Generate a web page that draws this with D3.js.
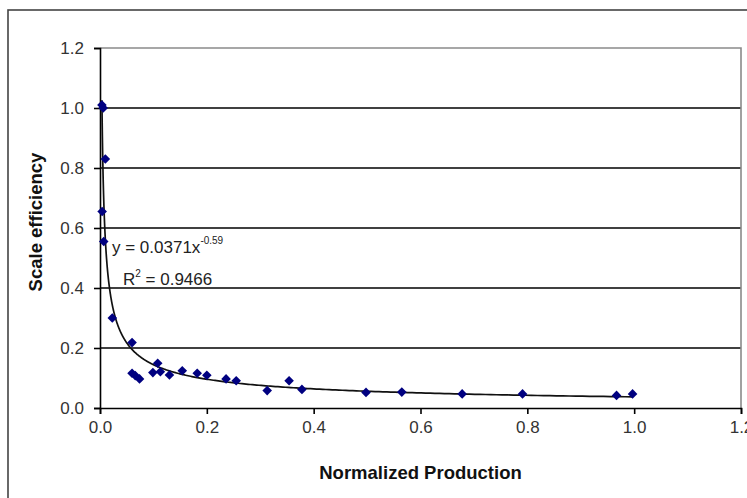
<!DOCTYPE html>
<html>
<head>
<meta charset="utf-8">
<script src="https://cdn.jsdelivr.net/npm/d3@7/dist/d3.min.js"></script>
<style>
  html, body { margin: 0; padding: 0; background: #fff; }
  svg { display: block; font-family: "Liberation Sans", Arial, sans-serif; }
</style>
</head>
<body>
<svg id="chart" width="747" height="498"></svg>
<script>
// ---- data ----
const productionX = [0.0036, 0.006, 0.010, 0.004, 0.007, 0.023, 0.060, 0.060, 0.066, 0.074,
                     0.099, 0.108, 0.113, 0.130, 0.154, 0.182, 0.200, 0.236, 0.255, 0.313,
                     0.354, 0.378, 0.498, 0.565, 0.678, 0.791, 0.967, 0.997];
const efficiencyY = [1.01, 1.00, 0.83, 0.655, 0.555, 0.30, 0.218, 0.116, 0.108, 0.097,
                     0.118, 0.149, 0.121, 0.110, 0.124, 0.116, 0.109, 0.097, 0.091, 0.058,
                     0.091, 0.062, 0.052, 0.053, 0.047, 0.047, 0.042, 0.047];
const yTicks = [0.0, 0.2, 0.4, 0.6, 0.8, 1.0, 1.2];
const xTicks = [0.0, 0.2, 0.4, 0.6, 0.8, 1.0, 1.2];
const trendCoef = 0.0371;      // y = a * x^b (power trendline shown on chart)
const trendExp = -0.59;
const eqText = "y = 0.0371x";
const eqSup = "-0.59";
const r2Text = "= 0.9466";
const xTitle = "Normalized Production";
const yTitle = "Scale efficiency";

// ---- layout ----
const svg = d3.select("#chart");
const W = 747, H = 498;
const plot = { left: 100, right: 741, top: 48, bottom: 408 };

const x = d3.scaleLinear().domain([0, 1.2]).range([plot.left, plot.right]);
const y = d3.scaleLinear().domain([0, 1.2]).range([plot.bottom, plot.top]);

// outer chart frame
svg.append("rect")
  .attr("x", 8).attr("y", 10)
  .attr("width", W + 20).attr("height", H + 20)
  .attr("fill", "#fff").attr("stroke", "#444").attr("stroke-width", 1.6);

// gridlines (black)
svg.append("g").selectAll("line")
  .data(yTicks.filter(d => d > 0 && d < 1.2))
  .join("line")
  .attr("x1", plot.left).attr("x2", plot.right)
  .attr("y1", d => y(d)).attr("y2", d => y(d))
  .attr("stroke", "#000").attr("stroke-width", 1.4);

// plot area border top/right (gray)
svg.append("path")
  .attr("d", `M${plot.left},${y(1.2)}H${x(1.2)}V${plot.bottom}`)
  .attr("fill", "none").attr("stroke", "#8a8a8a").attr("stroke-width", 1.6);

// axes
const yAxis = d3.axisLeft(y).tickValues(yTicks).tickFormat(d3.format(".1f")).tickSize(6).tickPadding(10);
const xAxis = d3.axisBottom(x).tickValues(xTicks).tickFormat(d3.format(".1f")).tickSize(6).tickPadding(7);

const gy = svg.append("g").attr("transform", `translate(${plot.left},0)`).call(yAxis);
const gx = svg.append("g").attr("transform", `translate(0,${plot.bottom})`).call(xAxis);
[gx, gy].forEach(g => {
  g.select(".domain").attr("stroke", "#000").attr("stroke-width", 1.6);
  g.selectAll(".tick line").attr("stroke", "#000").attr("stroke-width", 1.6);
  g.selectAll(".tick text")
    .attr("fill", "#333")
    .style("font-size", "17px")
    .style("font-family", "'Liberation Sans', Arial, sans-serif");
});

// trendline (power fit from the chart's equation)
const xMin = d3.min(productionX), xMax = d3.max(productionX);
const trendX = d3.range(0, 401).map(i => xMin * Math.pow(xMax / xMin, i / 400));
const line = d3.line().x(d => x(d)).y(d => y(trendCoef * Math.pow(d, trendExp)));
svg.append("path")
  .datum(trendX)
  .attr("d", line)
  .attr("fill", "none").attr("stroke", "#111").attr("stroke-width", 1.7);

// markers
const pts = productionX.map((v, i) => ({ x: v, y: efficiencyY[i] }));
svg.append("g").selectAll("path")
  .data(pts)
  .join("path")
  .attr("d", d3.symbol().type(d3.symbolSquare).size(46))
  .attr("transform", d => `translate(${x(d.x)},${y(d.y)}) rotate(45)`)
  .attr("fill", "#000080");

// equation label
const eq = svg.append("text")
  .attr("x", 112).attr("y", 253)
  .attr("fill", "#222").style("font-size", "17px");
eq.append("tspan").text(eqText);
eq.append("tspan").attr("dy", -9).style("font-size", "10px").text(eqSup);

const r2 = svg.append("text")
  .attr("x", 123).attr("y", 285)
  .attr("fill", "#222").style("font-size", "17px");
r2.append("tspan").text("R");
r2.append("tspan").attr("dy", -8).style("font-size", "10px").text("2");
r2.append("tspan").attr("dy", 8).text(" " + r2Text);

// axis titles
svg.append("text")
  .attr("x", (plot.left + plot.right) / 2).attr("y", 479)
  .attr("text-anchor", "middle")
  .attr("fill", "#111").style("font-size", "18.5px").style("font-weight", "bold")
  .text(xTitle);

svg.append("text")
  .attr("transform", `translate(42,222) rotate(-90)`)
  .attr("text-anchor", "middle")
  .attr("fill", "#111").style("font-size", "18.5px").style("font-weight", "bold")
  .text(yTitle);
</script>
</body>
</html>
